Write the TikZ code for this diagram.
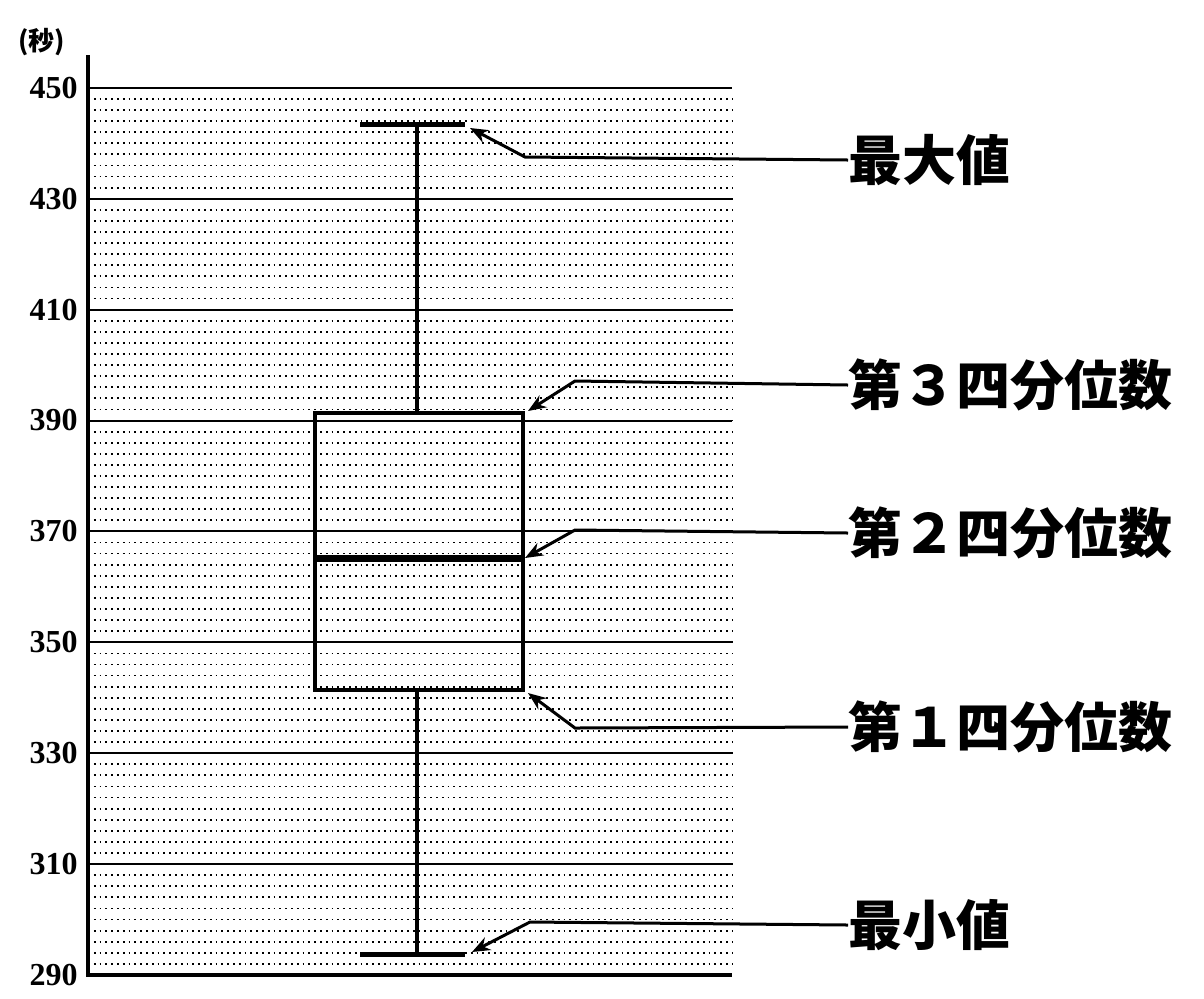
\documentclass[tikz,border=0pt]{standalone}
\usepackage{fontspec}
\setmainfont{Liberation Serif}
\newfontfamily\jafont{Noto Sans CJK JP}
\usetikzlibrary{arrows.meta}
\tikzset{
  grid minor/.style={line width=0.9pt, dotted},
  grid major/.style={line width=1pt},
  boxline/.style={line width=2pt},
  callout/.style={line width=1.5pt, -{Stealth[length=9pt,width=7pt]}},
  label ja/.style={anchor=west, font=\jafont\bfseries\fontsize{27}{29}\selectfont, inner sep=0pt},
  ticklabel/.style={anchor=east, font=\bfseries\fontsize{16}{17}\selectfont, inner sep=0pt}
}
\newcommand{\ypos}[1]{975-(#1-290)*5.545}
\begin{document}
\begin{tikzpicture}[x=0.5pt,y=-0.5pt]
\useasboundingbox (0,0) rectangle (1204,998);
% grid
\foreach \v in {292,294,...,448}
  \draw[grid minor] (88,{\ypos{\v}}) -- (732,{\ypos{\v}});
\foreach \v in {290,310,...,450}{
  \draw[grid major] (88,{\ypos{\v}}) -- (732,{\ypos{\v}});
  \node[ticklabel] at (78,{\ypos{\v}}) {\v};
}
\draw[line width=2pt] (88,55) -- (88,977);
\draw[line width=2pt] (88,975) -- (732,975);
\node[font=\jafont\bfseries\fontsize{13}{14}\selectfont] (unit) at (42,42) {(秒)};
% box plot
\draw[boxline] (417,124) -- (417,413);
\draw[boxline] (417,690) -- (417,954);
\draw[line width=2.5pt] (360,124) -- (465,124);
\draw[line width=2.5pt] (360,954) -- (465,954);
\draw[boxline] (315,413) rectangle (523,690);
\draw[line width=3.5pt] (315,558) -- (523,558);
% labels
\node[label ja] (lmax) at (848,160) {最大値};
\node[label ja] (lq3) at (848,385) {第３四分位数};
\node[label ja] (lq2) at (848,533) {第２四分位数};
\node[label ja] (lq1) at (848,727) {第１四分位数};
\node[label ja] (lmin) at (848,925) {最小値};
\coordinate (tmax) at (470,128);
\coordinate (tq3) at (528,411);
\coordinate (tq2) at (525,558);
\coordinate (tq1) at (528,693);
\coordinate (tmin) at (472,952);
\draw[callout] (lmax.west) -- (525,157) -- (tmax);
\draw[callout] (lq3.west) -- (575,381) -- (tq3);
\draw[callout] (lq2.west) -- (575,530) -- (tq2);
\draw[callout] (lq1.west) -- (575,728) -- (tq1);
\draw[callout] (lmin.west) -- (530,922) -- (tmin);
\end{tikzpicture}
\end{document}
